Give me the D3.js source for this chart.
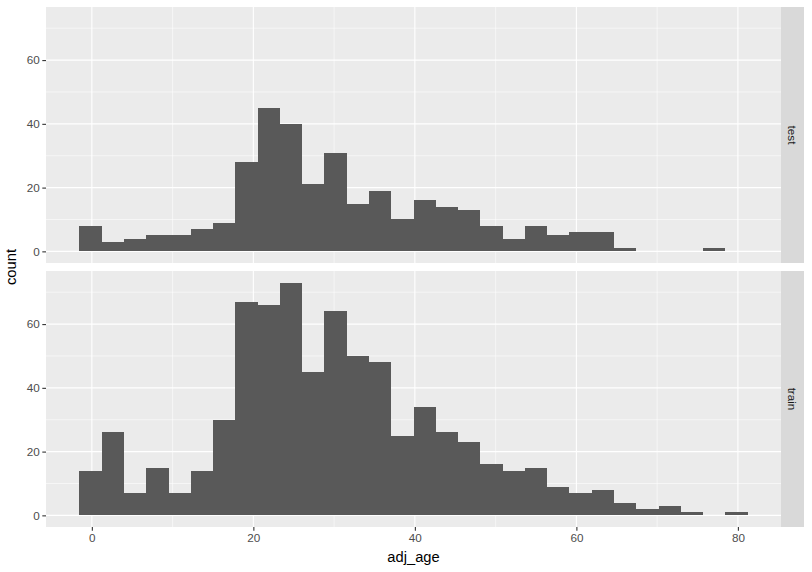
<!DOCTYPE html>
<html>
<head>
<meta charset="utf-8">
<script src="https://cdn.jsdelivr.net/npm/d3@7"></script>
<style>
  html, body { margin: 0; padding: 0; background: #fff; }
  svg { display: block; font-family: "Liberation Sans", Arial, sans-serif; }
</style>
</head>
<body>
<svg id="chart" width="812" height="572"></svg>
<script>
// ---- data ----
const binStart = -1.54;
const binWidth = 2.758;
const panels = ["test", "train"];
const testCounts = [8,3,4,5,5,7,9,28,45,40,21,31,15,19,10,16,14,13,8,4,8,5,6,6,1,0,0,0,1,0];
const trainCounts = [14,26,7,15,7,14,30,67,66,73,45,64,50,48,25,34,26,23,16,14,15,9,7,8,4,2,3,1,0,1];
const xTicks = [0, 20, 40, 60, 80];
const xMinor = [10, 30, 50, 70];
const yTicks = [0, 20, 40, 60];
const yMinor = [10, 30, 50, 70];

// ---- layout ----
const svg = d3.select("#chart");
const W = 812, H = 572;
const left = 46, right = 781;
const stripW = 23;
const panelRects = [{top: 7, bottom: 263}, {top: 271, bottom: 527}];
const seriesByPanel = {test: testCounts, train: trainCounts};

const nb = testCounts.length;
const binEnd = binStart + nb * binWidth;
const xr = binEnd - binStart;
const x = d3.scaleLinear()
  .domain([binStart - 0.05 * xr, binEnd + 0.05 * xr])
  .range([left, right]);

const yMax = d3.max(testCounts.concat(trainCounts));
const yDomain = [-0.05 * yMax, yMax * 1.05];

panels.forEach((name, pi) => {
  const pr = panelRects[pi];
  const y = d3.scaleLinear().domain(yDomain).range([pr.bottom, pr.top]);
  const g = svg.append("g");

  g.append("rect")
    .attr("x", left).attr("y", pr.top)
    .attr("width", right - left).attr("height", pr.bottom - pr.top)
    .attr("fill", "#EBEBEB");

  // minor grid
  g.selectAll(".xminor").data(xMinor).enter().append("line")
    .attr("x1", d => x(d)).attr("x2", d => x(d))
    .attr("y1", pr.top).attr("y2", pr.bottom)
    .attr("stroke", "#fff").attr("stroke-width", 0.55);
  g.selectAll(".yminor").data(yMinor).enter().append("line")
    .attr("x1", left).attr("x2", right)
    .attr("y1", d => y(d)).attr("y2", d => y(d))
    .attr("stroke", "#fff").attr("stroke-width", 0.55);
  // major grid
  g.selectAll(".xmajor").data(xTicks).enter().append("line")
    .attr("x1", d => x(d)).attr("x2", d => x(d))
    .attr("y1", pr.top).attr("y2", pr.bottom)
    .attr("stroke", "#fff").attr("stroke-width", 1.1);
  g.selectAll(".ymajor").data(yTicks).enter().append("line")
    .attr("x1", left).attr("x2", right)
    .attr("y1", d => y(d)).attr("y2", d => y(d))
    .attr("stroke", "#fff").attr("stroke-width", 1.1);

  // bars
  const counts = seriesByPanel[name];
  g.selectAll(".bar").data(counts).enter().append("rect")
    .attr("x", (d, i) => x(binStart + i * binWidth))
    .attr("width", (d, i) => x(binStart + (i + 1) * binWidth) - x(binStart + i * binWidth))
    .attr("y", d => y(d))
    .attr("height", d => y(0) - y(d))
    .attr("fill", "#595959")
    .attr("shape-rendering", "crispEdges");

  // y axis
  const yAxis = d3.axisLeft(y).tickValues(yTicks).tickSize(3.7).tickPadding(2.5);
  const ya = g.append("g").attr("transform", `translate(${left},0)`).call(yAxis);
  ya.select(".domain").remove();
  ya.selectAll(".tick line").attr("stroke", "#333333").attr("stroke-width", 1.1);
  ya.selectAll(".tick text").attr("fill", "#4D4D4D").style("font-size", "11.7px")
    .style("font-family", '"Liberation Sans", Arial, sans-serif');

  // strip
  g.append("rect")
    .attr("x", right).attr("y", pr.top)
    .attr("width", stripW).attr("height", pr.bottom - pr.top)
    .attr("fill", "#D9D9D9");
  const cx = right + stripW / 2, cy = (pr.top + pr.bottom) / 2;
  g.append("text")
    .attr("transform", `translate(${cx},${cy}) rotate(90)`)
    .attr("text-anchor", "middle")
    .attr("dy", "0.35em")
    .attr("fill", "#1A1A1A")
    .style("font-size", "11.7px")
    .text(name);
});

// x axis at bottom
const xAxis = d3.axisBottom(x).tickValues(xTicks).tickSize(3.7).tickPadding(2.5);
const xa = svg.append("g").attr("transform", `translate(0,${panelRects[1].bottom})`).call(xAxis);
xa.select(".domain").remove();
xa.selectAll(".tick line").attr("stroke", "#333333").attr("stroke-width", 1.1);
xa.selectAll(".tick text").attr("fill", "#4D4D4D").style("font-size", "11.7px")
  .style("font-family", '"Liberation Sans", Arial, sans-serif');

// axis titles
svg.append("text")
  .attr("x", (left + right) / 2).attr("y", 562)
  .attr("text-anchor", "middle")
  .attr("fill", "#000")
  .style("font-size", "14.7px")
  .text("adj_age");
svg.append("text")
  .attr("transform", `translate(16,${(panelRects[0].top + panelRects[1].bottom) / 2}) rotate(-90)`)
  .attr("text-anchor", "middle")
  .attr("fill", "#000")
  .style("font-size", "14.7px")
  .text("count");
</script>
</body>
</html>
